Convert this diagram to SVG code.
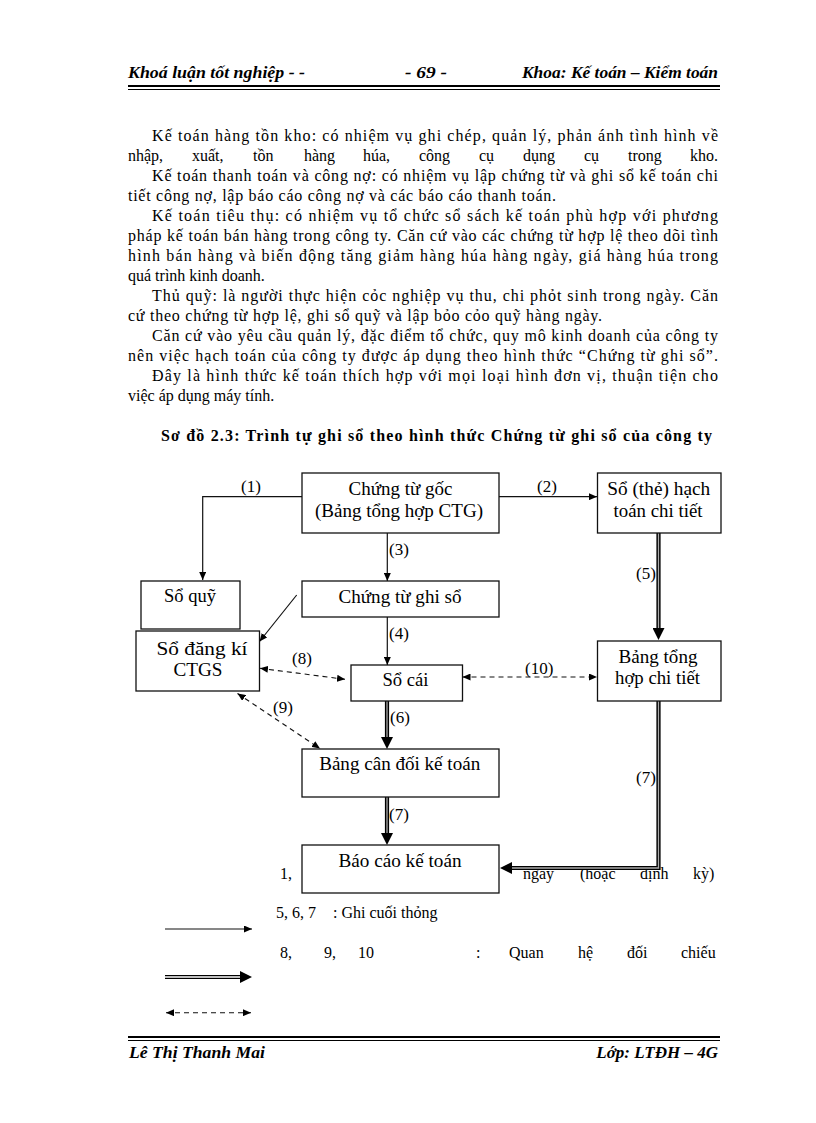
<svg xmlns="http://www.w3.org/2000/svg" width="816" height="1123" viewBox="0 0 816 1123">
<style>
text{font-family:"Liberation Serif","Times New Roman",serif;fill:#000}
.hd{font-size:17px;font-weight:bold;font-style:italic}
.p{font-size:16px}
.ttl{font-size:16px;font-weight:bold}
.bx{font-size:18px}
.lb{font-size:17px}
.box{fill:#fff;stroke:#111;stroke-width:1.3}
.thin{fill:none;stroke:#111;stroke-width:1.2}
.dash{fill:none;stroke:#111;stroke-width:1.1;stroke-dasharray:5 4}
.dblo{fill:none;stroke:#000;stroke-width:4.2}
.dbli{fill:none;stroke:#aaa;stroke-width:1.3}
.rule{stroke:#000}
</style>
<defs>
<marker id="ah" viewBox="0 0 8 7" refX="8" refY="3.5" markerWidth="8" markerHeight="7" markerUnits="userSpaceOnUse" orient="auto-start-reverse"><path d="M0,0 L8,3.5 L0,7 z" fill="#000"/></marker>
<marker id="bh" viewBox="0 0 12 12" refX="6" refY="6" markerWidth="12" markerHeight="12" markerUnits="userSpaceOnUse" orient="auto"><path d="M0,0 L12,6 L0,12 z" fill="#000"/></marker>
</defs>
<rect width="816" height="1123" fill="#fff"/>

<g id="header">
<text class="hd" x="128" y="78" textLength="177" lengthAdjust="spacingAndGlyphs">Khoá luận tốt nghiệp - -</text>
<text class="hd" x="405" y="78" textLength="42" lengthAdjust="spacingAndGlyphs">- 69 -</text>
<text class="hd" x="522" y="78" textLength="196" lengthAdjust="spacingAndGlyphs">Khoa: Kế toán – Kiểm toán</text>
<line class="rule" x1="128" y1="86" x2="720" y2="86" stroke-width="2.2"/>
<line class="rule" x1="128" y1="89.5" x2="720" y2="89.5" stroke-width="1"/>
</g>

<g id="body">
<text class="p" x="152" y="141" textLength="566" lengthAdjust="spacing">Kế toán hàng tồn kho: có nhiệm vụ ghi chép, quản lý, phản ánh tình hình về</text>
<text class="p" y="161"><tspan x="128">nhập,</tspan><tspan x="192">xuất,</tspan><tspan x="253">tồn</tspan><tspan x="304">hàng</tspan><tspan x="363">húa,</tspan><tspan x="419">công</tspan><tspan x="479">cụ</tspan><tspan x="523">dụng</tspan><tspan x="584">cụ</tspan><tspan x="628">trong</tspan><tspan x="690">kho.</tspan></text>
<text class="p" x="152" y="181" textLength="566" lengthAdjust="spacing">Kế toán thanh toán và công nợ: có nhiệm vụ lập chứng từ và ghi sổ kế toán chi</text>
<text class="p" x="128" y="201" textLength="428" lengthAdjust="spacing">tiết công nợ, lập báo cáo công nợ và các báo cáo thanh toán.</text>
<text class="p" x="152" y="221" textLength="566" lengthAdjust="spacing">Kế toán tiêu thụ: có nhiệm vụ tổ chức sổ sách kế toán phù hợp với phương</text>
<text class="p" x="128" y="241" textLength="590" lengthAdjust="spacing">pháp kế toán bán hàng trong công ty. Căn cứ vào các chứng từ hợp lệ theo dõi tình</text>
<text class="p" x="128" y="261" textLength="590" lengthAdjust="spacing">hình bán hàng và biến động tăng giảm hàng húa hàng ngày, giá hàng húa trong</text>
<text class="p" x="128" y="281">quá trình kinh doanh.</text>
<text class="p" x="152" y="301" textLength="566" lengthAdjust="spacing">Thủ quỹ: là người thực hiện cỏc nghiệp vụ thu, chi phỏt sinh trong ngày. Căn</text>
<text class="p" x="128" y="321" textLength="474" lengthAdjust="spacing">cứ theo chứng từ hợp lệ, ghi sổ quỹ và lập bỏo cỏo quỹ hàng ngày.</text>
<text class="p" x="152" y="341" textLength="566" lengthAdjust="spacing">Căn cứ vào yêu cầu quản lý, đặc điểm tổ chức, quy mô kinh doanh của công ty</text>
<text class="p" x="128" y="361" textLength="590" lengthAdjust="spacing">nên việc hạch toán của công ty được áp dụng theo hình thức “Chứng từ ghi sổ”.</text>
<text class="p" x="152" y="381" textLength="566" lengthAdjust="spacing">Đây là hình thức kế toán thích hợp với mọi loại hình đơn vị, thuận tiện cho</text>
<text class="p" x="128" y="401">việc áp dụng máy tính.</text>
</g>

<g id="title">
<text class="ttl" x="161" y="441" textLength="551" lengthAdjust="spacing">Sơ đồ 2.3: Trình tự ghi sổ theo hình thức Chứng từ ghi sổ của công ty</text>
</g>

<g id="legend-text">
<text class="p" x="280" y="879">1,</text>
<text class="p" y="879"><tspan x="523">ngày</tspan><tspan x="580">(hoặc</tspan><tspan x="640">định</tspan><tspan x="693">kỳ)</tspan></text>
<text class="p" x="276" y="918">5, 6, 7</text>
<text class="p" x="333" y="918">: Ghi cuối thỏng</text>
<text class="p" y="958"><tspan x="280">8,</tspan><tspan x="324">9,</tspan><tspan x="358">10</tspan><tspan x="476">:</tspan><tspan x="509">Quan</tspan><tspan x="578">hệ</tspan><tspan x="627">đối</tspan><tspan x="681">chiếu</tspan></text>
</g>

<g id="connectors">
<path class="thin" d="M302,496.7 H202.7 V580" marker-end="url(#ah)"/>
<path class="thin" d="M499,496.7 H597" marker-end="url(#ah)"/>
<path class="thin" d="M387.3,533 V581" marker-end="url(#ah)"/>
<path class="thin" d="M296.7,595 L259.5,641.5" marker-end="url(#ah)"/>
<path class="thin" d="M387.3,617 V665" marker-end="url(#ah)"/>
<path class="dash" d="M260,668.3 L345,679.3" marker-start="url(#ah)" marker-end="url(#ah)"/>
<path class="dash" d="M237.5,693.5 L320,748.5" marker-start="url(#ah)" marker-end="url(#ah)"/>
<path class="dash" d="M462.5,677 H597" marker-start="url(#ah)" marker-end="url(#ah)"/>
<path class="dblo" d="M387,701 V743" marker-end="url(#bh)"/>
<path class="dbli" d="M387,701 V737"/>
<path class="dblo" d="M387,797 V839" marker-end="url(#bh)"/>
<path class="dbli" d="M387,797 V833"/>
<path class="dblo" d="M658.5,533 V634" marker-end="url(#bh)"/>
<path class="dbli" d="M658.5,533 V628"/>
<path class="dblo" d="M658.5,701 V868 H506" marker-end="url(#bh)"/>
<path class="dbli" d="M658.5,701 V868 H512"/>
<text class="lb" x="241" y="492">(1)</text>
<text class="lb" x="537" y="492">(2)</text>
<text class="lb" x="389" y="555">(3)</text>
<text class="lb" x="389" y="639">(4)</text>
<text class="lb" x="636" y="579">(5)</text>
<text class="lb" x="390" y="723">(6)</text>
<text class="lb" x="389" y="820">(7)</text>
<text class="lb" x="636" y="783">(7)</text>
<text class="lb" x="292" y="664">(8)</text>
<text class="lb" x="273" y="713">(9)</text>
<text class="lb" x="525" y="674">(10)</text>
</g>

<g id="n-chung-tu-goc">
<rect class="box" x="302" y="473" width="197" height="60"/>
<text class="bx" x="400.5" y="495" text-anchor="middle" textLength="104" lengthAdjust="spacingAndGlyphs">Chứng từ gốc</text>
<text class="bx" x="399" y="517" text-anchor="middle" textLength="168" lengthAdjust="spacingAndGlyphs">(Bảng tổng hợp CTG)</text>
</g>
<g id="n-so-the">
<rect class="box" x="597.5" y="473" width="123.5" height="60"/>
<text class="bx" x="658.7" y="495" text-anchor="middle" textLength="103" lengthAdjust="spacingAndGlyphs">Sổ (thẻ) hạch</text>
<text class="bx" x="658" y="517" text-anchor="middle" textLength="89" lengthAdjust="spacingAndGlyphs">toán chi tiết</text>
</g>
<g id="n-so-quy">
<rect class="box" x="141" y="581" width="99" height="48"/>
<text class="bx" x="190" y="602" text-anchor="middle" textLength="52" lengthAdjust="spacingAndGlyphs">Sổ quỹ</text>
</g>
<g id="n-chung-tu-ghi-so">
<rect class="box" x="302" y="581" width="197" height="36"/>
<text class="bx" x="400" y="603" text-anchor="middle" textLength="123" lengthAdjust="spacingAndGlyphs">Chứng từ ghi sổ</text>
</g>
<g id="n-so-dang-ki">
<rect class="box" x="136" y="631" width="123.5" height="60"/>
<text class="bx" x="202" y="655" text-anchor="middle" textLength="91" lengthAdjust="spacingAndGlyphs">Sổ đăng kí</text>
<text class="bx" x="198" y="676" text-anchor="middle" textLength="49" lengthAdjust="spacingAndGlyphs">CTGS</text>
</g>
<g id="n-so-cai">
<rect class="box" x="351" y="665" width="111.5" height="36"/>
<text class="bx" x="405.5" y="686" text-anchor="middle" textLength="46" lengthAdjust="spacingAndGlyphs">Sổ cái</text>
</g>
<g id="n-bang-tong-hop">
<rect class="box" x="597.5" y="641" width="123.5" height="60"/>
<text class="bx" x="658" y="663" text-anchor="middle" textLength="79" lengthAdjust="spacingAndGlyphs">Bảng tổng</text>
<text class="bx" x="657.5" y="684" text-anchor="middle" textLength="85" lengthAdjust="spacingAndGlyphs">hợp chi tiết</text>
</g>
<g id="n-bang-can-doi">
<rect class="box" x="302" y="749" width="197" height="48"/>
<text class="bx" x="399.7" y="770" text-anchor="middle" textLength="161" lengthAdjust="spacingAndGlyphs">Bảng cân đối kế toán</text>
</g>
<g id="n-bao-cao">
<rect class="box" x="302" y="845" width="197" height="48"/>
<text class="bx" x="400" y="867" text-anchor="middle" textLength="123" lengthAdjust="spacingAndGlyphs">Báo cáo kế toán</text>
</g>

<g id="legend-arrows">
<path class="thin" d="M165,929 H252" marker-end="url(#ah)"/>
<path class="dblo" d="M165,977 H246" marker-end="url(#bh)" stroke-width="5"/>
<path fill="none" stroke="#fff" stroke-width="1.4" d="M165,977 H240"/>
<path class="dash" d="M166,1012.7 H251" marker-start="url(#ah)" marker-end="url(#ah)"/>
</g>

<g id="footer">
<line class="rule" x1="128" y1="1037" x2="720" y2="1037" stroke-width="2.2"/>
<line class="rule" x1="128" y1="1040.5" x2="720" y2="1040.5" stroke-width="1"/>
<text class="hd" x="129" y="1058" textLength="136" lengthAdjust="spacingAndGlyphs">Lê Thị Thanh Mai</text>
<text class="hd" x="718" y="1058" text-anchor="end">Lớp: LTĐH  – 4G</text>
</g>
</svg>
